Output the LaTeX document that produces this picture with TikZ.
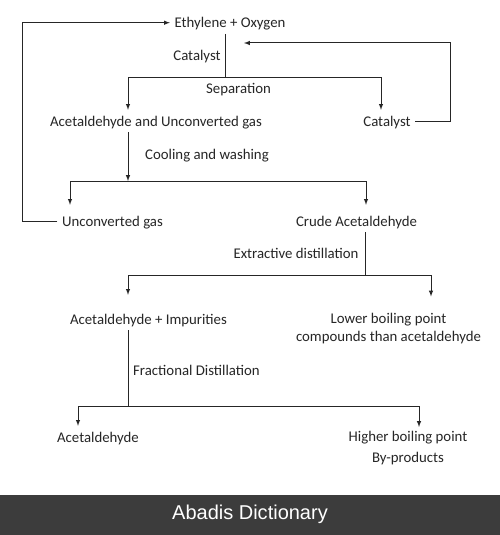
\documentclass[tikz,border=0pt]{standalone}
\usepackage{fontspec}
\setmainfont{Carlito}
\newfontfamily\barfont{Liberation Sans}
\usepackage{tikz}
\usetikzlibrary{positioning}
\definecolor{ink}{HTML}{262626}
\definecolor{barbg}{HTML}{3C3C3C}

\begin{document}
\begin{tikzpicture}[x=1pt,y=-1pt,
    stage/.style={inner sep=4.5pt,text=ink,font=\fontsize{14.8}{18}\selectfont},
    single/.style={stage,text height=11.5pt,text depth=1.5pt},
    flow/.style={-latex,line width=1pt,draw=ink},
    wire/.style={line width=1pt,draw=ink}]
    \fill[white] (0,0) rectangle (500,535);
    \fill[barbg] (0,495) rectangle (500,535);
    \node[text=white,font=\barfont\fontsize{20}{24}\selectfont] (brand) at (250,514) {Abadis Dictionary};

    \node[single] (eo) at (230,22.7) {Ethylene + Oxygen};
    \node[single] (aug) at (156,121) {Acetaldehyde and Unconverted gas};
    \node[single] (cat) at (387,121) {Catalyst};
    \node[single] (ug) at (112.5,221) {Unconverted gas};
    \node[single] (ca) at (356.5,221) {Crude Acetaldehyde};
    \node[single] (ai) at (148.5,319) {Acetaldehyde + Impurities};
    \node[stage,align=center] (lb) at (388.5,329) {Lower boiling point\\compounds than acetaldehyde};
    \node[single] (ac) at (98,437) {Acetaldehyde};
    \node[stage,align=center] (hb) at (408,448.5) {Higher boiling point\\[3pt]By-products};

    \node[single] (lcat) at (197,55) {Catalyst};
    \node[single] (lsep) at (238.5,88) {Separation};
    \node[single] (lcool) at (207,154) {Cooling and washing};
    \node[single] (lext) at (296,253) {Extractive distillation};
    \node[single] (lfrac) at (196.5,370) {Fractional Distillation};

    \coordinate (sep) at (225,77);
    \coordinate (sepL) at (128,77);
    \coordinate (sepR) at (381,77);
    \coordinate (back) at (244,43);
    \coordinate (cool) at (128,181);
    \coordinate (coolL) at (70,181);
    \coordinate (coolR) at (366,181);
    \coordinate (ext) at (365,275);
    \coordinate (extL) at (128,275);
    \coordinate (extR) at (431,275);
    \coordinate (frac) at (128,406);
    \coordinate (fracL) at (78,406);
    \coordinate (fracR) at (419,406);

    \draw[wire] (eo.south -| sep) -- (sep);
    \draw[flow] (sep) -| (sepL |- aug.north);
    \draw[flow] (sep) -| (sepR |- cat.north);
    \draw[flow] (cat.east) -- ++(35,0) |- (back);

    \draw[flow] (aug.south -| cool) -- (cool);
    \draw[flow,shorten >=5pt] (cool) -| (coolL |- ug.north);
    \draw[flow,shorten >=5pt] (cool) -| (coolR |- ca.north);
    \draw[flow] (ug.west) -- ++(-35,0) |- (eo.west);

    \draw[wire] (ca.south -| ext) -- (ext);
    \draw[flow,shorten >=13pt] (ext) -| (extL |- ai.north);
    \draw[flow,shorten >=12.5pt] (ext) -| (extR |- lb.north);

    \draw[wire] (ai.south -| frac) -- (frac);
    \draw[flow] (frac) -| (fracL |- ac.north);
    \draw[flow] (frac) -| (fracR |- hb.north);
\end{tikzpicture}
\end{document}
